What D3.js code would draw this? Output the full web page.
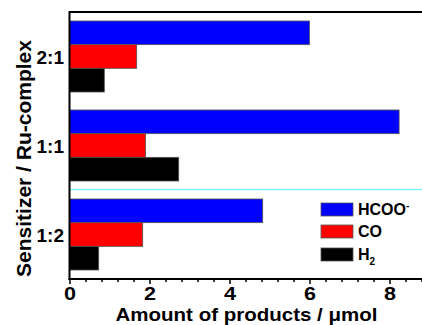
<!DOCTYPE html>
<html><head><meta charset="utf-8">
<script src="https://cdn.jsdelivr.net/npm/d3@7"></script>
<style>body{margin:0;background:#fff}svg{display:block}text{font-family:"Liberation Sans",Arial,sans-serif;font-weight:bold}</style>
</head><body><svg id="c" width="422" height="325"></svg>
<script>
const categories = ["2:1", "1:1", "1:2"];
const seriesNames = ["HCOO", "CO", "H2"];
const hcoo = [6.0, 8.24, 4.83];
const co = [1.68, 1.9, 1.83];
const h2 = [0.87, 2.73, 0.73];
const xTicks = [0, 2, 4, 6, 8];
const colors = ["#0000ff", "#ff0000", "#000000"];

const svg = d3.select("#c");
const L = 69.5, R = 421.5, T = 12, B = 279;
const x = d3.scaleLinear().domain([0, 8.8]).range([L, R]);
const y = d3.scaleBand().domain(categories).range([T, B]).padding(0);
const ys = d3.scaleBand().domain(seriesNames).range([0, y.bandwidth()]).paddingInner(0).paddingOuter(0.38);
const values = [hcoo, co, h2];

// cyan separator line
svg.append("line").attr("x1", L).attr("x2", 422).attr("y1", 189.5).attr("y2", 189.5)
  .attr("stroke", "#80ffff").attr("stroke-width", 1.5);

categories.forEach((c, i) => {
  seriesNames.forEach((s, j) => {
    svg.append("rect")
      .attr("x", x(0)).attr("y", y(c) + ys(s))
      .attr("width", x(values[j][i]) - x(0)).attr("height", ys.bandwidth())
      .attr("fill", colors[j]).attr("stroke", "#555").attr("stroke-width", 0.8);
  });
});

// frame
svg.append("line").attr("x1", L).attr("x2", 422).attr("y1", T).attr("y2", T).attr("stroke", "#000").attr("stroke-width", 2);
svg.append("line").attr("x1", L).attr("x2", L).attr("y1", T - 1).attr("y2", B + 1).attr("stroke", "#000").attr("stroke-width", 2);

// x axis
const minor = d3.range(0, 8.81, 0.4).filter(v => Math.abs(v / 2 - Math.round(v / 2)) > 1e-6);
const gx = svg.append("g").attr("transform", `translate(0,${B})`);
gx.call(d3.axisBottom(x).tickValues(minor).tickSize(3).tickFormat(""));
gx.call(g => g.selectAll(".tick line").attr("stroke-width", 1.5));
const gx2 = svg.append("g").attr("transform", `translate(0,${B})`)
  .call(d3.axisBottom(x).tickValues(xTicks).tickSize(5).tickPadding(3).tickFormat(d3.format("d")));
gx2.selectAll(".tick line").attr("stroke-width", 1.5);
gx2.selectAll(".tick text").attr("font-size", 18).attr("font-family", '"Liberation Sans",Arial,sans-serif').attr("font-weight", "bold").attr("fill", "#000")
  .attr("textLength", 12).attr("lengthAdjust", "spacingAndGlyphs");
svg.selectAll(".domain").remove();
svg.append("line").attr("x1", L - 1).attr("x2", 422).attr("y1", B).attr("y2", B).attr("stroke", "#000").attr("stroke-width", 2);

// y category labels
svg.selectAll(".ylab").data(categories).join("text")
  .attr("x", 64).attr("y", d => y(d) + y.bandwidth() / 2 + 7)
  .attr("text-anchor", "end").attr("font-size", 19).text(d => d);

// axis titles
svg.append("text").attr("x", 246.5).attr("y", 320.5).attr("text-anchor", "middle").attr("font-size", 19)
  .attr("textLength", 262).attr("lengthAdjust", "spacingAndGlyphs")
  .text("Amount of products / \u03bcmol");
svg.append("text").attr("transform", `translate(31,158.5) rotate(-90)`).attr("text-anchor", "middle").attr("font-size", 20)
  .attr("textLength", 237).attr("lengthAdjust", "spacingAndGlyphs")
  .text("Sensitizer / Ru-complex");

// legend
const lg = svg.append("g");
const ly = [203, 225, 248];
seriesNames.forEach((s, j) => {
  lg.append("rect").attr("x", 321).attr("y", ly[j]).attr("width", 32).attr("height", 13)
    .attr("fill", colors[j]).attr("stroke", "#555").attr("stroke-width", 0.8);
  const t = lg.append("text").attr("x", 358).attr("y", ly[j] + 12).attr("font-size", 16);
  if (s === "HCOO") { t.append("tspan").text("HCOO"); t.append("tspan").attr("dy", -6).attr("font-size", 10).text("-"); }
  else if (s === "H2") { t.append("tspan").text("H"); t.append("tspan").attr("dy", 5).attr("font-size", 10).text("2"); }
  else t.text(s);
});
</script></body></html>
